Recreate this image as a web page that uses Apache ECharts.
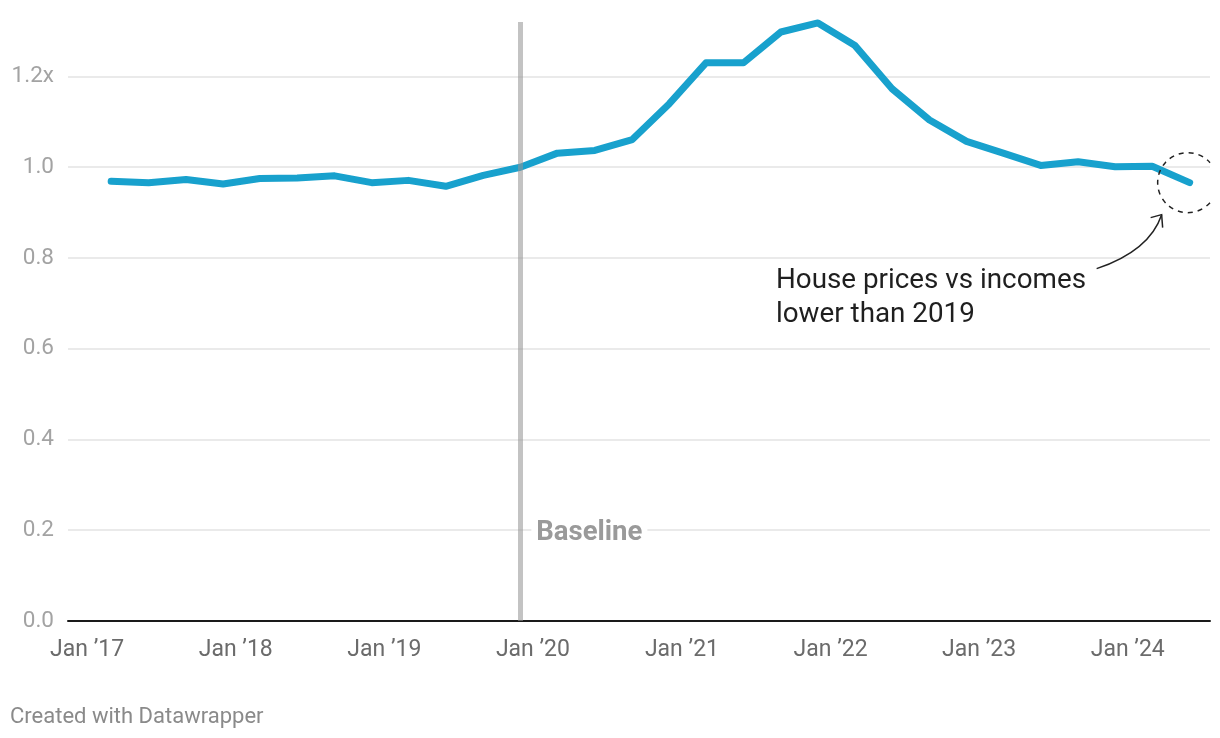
<!DOCTYPE html>
<html>
<head>
<meta charset="utf-8">
<script src="https://cdn.jsdelivr.net/npm/echarts@6/dist/echarts.min.js"></script>
<style>
  html, body { margin: 0; padding: 0; background: #ffffff; }
  #chart { width: 1220px; height: 738px; }
</style>
</head>
<body>
<div id="chart"></div>
<script>
// ---- Data ----
const quarters = [
  '2017-03-01','2017-06-01','2017-09-01','2017-12-01',
  '2018-03-01','2018-06-01','2018-09-01','2018-12-01',
  '2019-03-01','2019-06-01','2019-09-01','2019-12-01',
  '2020-03-01','2020-06-01','2020-09-01','2020-12-01',
  '2021-03-01','2021-06-01','2021-09-01','2021-12-01',
  '2022-03-01','2022-06-01','2022-09-01','2022-12-01',
  '2023-03-01','2023-06-01','2023-09-01','2023-12-01',
  '2024-03-01','2024-06-01'
];
const ratio = [
  0.969, 0.966, 0.973, 0.963,
  0.975, 0.976, 0.981, 0.966,
  0.971, 0.958, 0.982, 1.000,
  1.031, 1.037, 1.061, 1.140,
  1.230, 1.230, 1.298, 1.318,
  1.269, 1.173, 1.104, 1.057,
  1.031, 1.004, 1.012, 1.001,
  1.002, 0.966
];
const xTickYears = [2017, 2018, 2019, 2020, 2021, 2022, 2023, 2024];
const yTicks = [0, 0.2, 0.4, 0.6, 0.8, 1.0, 1.2];
const baselineDate = '2019-12-01';
const annotationLines = ['House prices vs incomes', 'lower than 2019'];
const footerText = 'Created with Datawrapper';

const FONT = 'Roboto, "Noto Sans", sans-serif';
const chart = echarts.init(document.getElementById('chart'), null, { renderer: 'canvas' });

function ts(s) { return Date.UTC(+s.slice(0, 4), +s.slice(5, 7) - 1, +s.slice(8, 10)); }
const xTickValues = xTickYears.map(y => Date.UTC(y, 0, 1));

chart.setOption({
  animation: false,
  backgroundColor: '#ffffff',
  grid: { left: 68, right: 10, top: 22, bottom: 117, containLabel: false },
  xAxis: {
    type: 'value',
    min: ts('2016-11-15'),
    max: ts('2024-07-21'),
    axisLine: { show: true, onZero: false, lineStyle: { color: '#1a1a1a', width: 2 } },
    axisTick: { show: false },
    splitLine: { show: false },
    axisLabel: {
      customValues: xTickValues,
      formatter: v => 'Jan \u2019' + String(new Date(v).getUTCFullYear()).slice(2),
      color: '#6b6b6b',
      fontFamily: FONT,
      fontSize: 23,
      margin: 18,
      hideOverlap: false
    }
  },
  yAxis: {
    type: 'value',
    min: 0,
    max: 1.32,
    interval: 0.2,
    axisLine: { show: false },
    axisTick: { show: false },
    splitLine: { show: false },
    axisLabel: {
      customValues: yTicks,
      formatter: v => Math.abs(v - 1.2) < 1e-6 ? '1.2x' : v.toFixed(1),
      color: '#a3a3a3',
      fontFamily: FONT,
      fontSize: 22.5,
      margin: 14,
      align: 'right'
    }
  },
  series: [
    {
      type: 'line',
      data: [],
      silent: true,
      z: 1,
      markLine: {
        silent: true,
        z: 1,
        symbol: 'none',
        label: { show: false },
        lineStyle: { color: '#e3e3e3', width: 1.5, type: 'solid' },
        data: yTicks.filter(v => v > 0).map(v => ({ yAxis: v }))
      }
    },
    {
      type: 'line',
      data: quarters.map((d, i) => [ts(d), ratio[i]]),
      showSymbol: false,
      symbol: 'none',
      lineStyle: { color: '#18a1cd', width: 7, cap: 'round', join: 'round' },
      z: 3
    },
    {
      type: 'line',
      data: [],
      silent: true,
      z: 4,
      markLine: {
        silent: true,
        z: 4,
        symbol: 'none',
        label: { show: false },
        lineStyle: { color: 'rgba(150,150,150,0.57)', width: 5, type: 'solid', opacity: 1 },
        data: [{ xAxis: ts(baselineDate) }]
      }
    }
  ]
});

function placeAnnotations() {
  const bx = chart.convertToPixel({ gridIndex: 0 }, [ts(baselineDate), 0.2]);
  const lastIdx = quarters.length - 1;
  const lp = chart.convertToPixel({ gridIndex: 0 }, [ts(quarters[lastIdx]), ratio[lastIdx]]);
  const cx = lp[0] - 2, cy = lp[1];
  const r = 30;
  const clipX = 1210;
  const a = Math.acos(Math.min(1, (clipX - cx) / r));
  const tip = [cx - 26, cy + 32];
  const start = [tip[0] - 65, tip[1] + 54];
  chart.setOption({
    graphic: [
      {
        type: 'text',
        x: bx[0] + 11,
        y: bx[1] + 3,
        z: 10,
        style: {
          text: 'Baseline',
          fill: '#9a9a9a',
          font: 'bold 27.5px ' + FONT,
          verticalAlign: 'middle',
          align: 'left',
          backgroundColor: '#ffffff',
          padding: [2, 5, 2, 5]
        }
      },
      {
        type: 'arc',
        z: 10,
        shape: { cx: cx, cy: cy, r: r, startAngle: a, endAngle: 2 * Math.PI - a, clockwise: true },
        style: { stroke: '#222222', fill: 'none', lineWidth: 1.5, lineDash: [5, 5] }
      },
      {
        type: 'bezierCurve',
        z: 10,
        shape: { x1: start[0], y1: start[1], x2: tip[0], y2: tip[1], cpx1: tip[0] - 12, cpy1: tip[1] + 36 },
        style: { stroke: '#222222', fill: 'none', lineWidth: 1.5 }
      },
      {
        type: 'polyline',
        z: 10,
        shape: { points: [[tip[0] - 11, tip[1] + 3], tip, [tip[0] + 1, tip[1] + 13]] },
        style: { stroke: '#222222', fill: 'none', lineWidth: 1.5 }
      },
      {
        type: 'text',
        z: 10,
        x: 776,
        y: 298,
        style: {
          text: annotationLines.join('\n'),
          fill: '#1f1f1f',
          font: '27.8px ' + FONT,
          lineHeight: 34,
          verticalAlign: 'middle',
          align: 'left'
        }
      },
      {
        type: 'text',
        z: 10,
        x: 10,
        y: 717,
        style: {
          text: footerText,
          fill: '#8a8a8a',
          font: '22px ' + FONT,
          verticalAlign: 'middle',
          align: 'left'
        }
      }
    ]
  });
}
placeAnnotations();
</script>
</body>
</html>
